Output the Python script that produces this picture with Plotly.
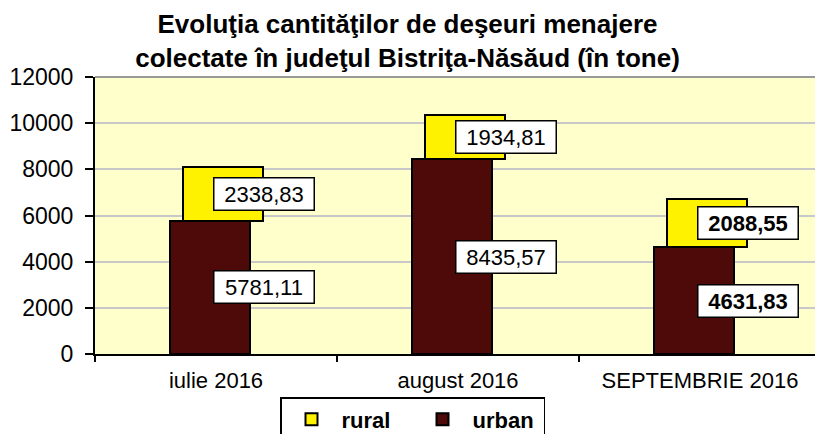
import plotly.graph_objects as go

categories = ["iulie 2016", "august 2016", "SEPTEMBRIE 2016"]
urban = [5781.11, 8435.57, 4631.83]
rural = [2338.83, 1934.81, 2088.55]
y_ticks = [0, 2000, 4000, 6000, 8000, 10000, 12000]

FONT = "Liberation Sans, Arial, sans-serif"
URBAN_C = "#4E0909"
RURAL_C = "#FFF200"

def fmt(v):
    return f"{v:.2f}".replace(".", ",")

fig = go.Figure()
fig.add_trace(go.Bar(
    name="<b>urban</b>", x=categories, y=urban,
    offset=-0.19, width=0.33,
    marker=dict(color=URBAN_C, line=dict(color="black", width=2)),
))
fig.add_trace(go.Bar(
    name="<b>rural</b>", x=categories, y=rural, base=urban,
    offset=-0.135, width=0.33,
    marker=dict(color=RURAL_C, line=dict(color="black", width=2)),
))

annotations = []
for i, cat in enumerate(categories):
    bold = i == 2
    for val, base in ((urban[i], 0), (rural[i], urban[i])):
        txt = fmt(val)
        if bold:
            txt = f"<b>{txt}</b>"
        annotations.append(dict(
            x=i + 0.2, y=base + val / 2, xref="x", yref="y",
            text=txt, showarrow=False,
            font=dict(family=FONT, size=22, color="black"),
            bgcolor="white", bordercolor="black", borderwidth=1.5,
            borderpad=3, width=93, height=25,
        ))

fig.update_layout(
    width=815, height=434,
    margin=dict(l=95, r=0, t=77, b=80, autoexpand=False),
    paper_bgcolor="white", plot_bgcolor="#FFFFCC",
    barmode="overlay", bargap=0,
    font=dict(family=FONT, size=21, color="black"),
    title=dict(
        text="<b>Evoluţia cantităţilor de deşeuri menajere<br>colectate în judeţul Bistriţa-Năsăud (în tone)</b>",
        x=0.5, xref="container", xanchor="center",
        y=1 - 33 / 434, yref="container", yanchor="middle",
        font=dict(family=FONT, size=26, color="black"),
    ),
    xaxis=dict(
        type="category", range=[-0.5, 2.475], automargin=False,
        showline=True, linecolor="black", linewidth=2,
        ticks="outside", tickson="boundaries", ticklen=6,
        tickcolor="black", tickwidth=1.5,
        showgrid=False, ticklabelstandoff=6,
        tickfont=dict(family=FONT, size=22, color="black"),
    ),
    yaxis=dict(
        range=[0, 12000], tickvals=y_ticks, ticktext=[str(v) for v in y_ticks],
        automargin=False,
        showline=True, linecolor="black", linewidth=2,
        ticks="outside", ticklen=8, tickcolor="black", tickwidth=1.5,
        showgrid=True, gridcolor="#C8C8C8", gridwidth=1.5,
        zeroline=False, ticklabelstandoff=7,
        tickfont=dict(family=FONT, size=23, color="black"),
    ),
    legend=dict(
        orientation="h", traceorder="reversed",
        x=(280 - 95) / 720, xanchor="left",
        y=(354 - 397) / 277, yanchor="top",
        bgcolor="white", bordercolor="black", borderwidth=1.5,
        font=dict(family=FONT, size=22, color="black"),
        itemwidth=50, entrywidth=66,
    ),
    annotations=annotations,
    shapes=[dict(type="line", xref="paper", yref="paper", x0=0, x1=1, y0=1, y1=1,
                 line=dict(color="#999999", width=2))],
)

fig.write_html("out.html", config={"displayModeBar": False},
               post_script="document.body.style.margin='0';")
